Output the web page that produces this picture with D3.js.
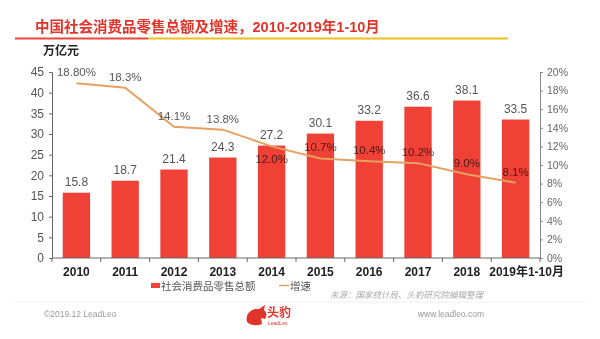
<!DOCTYPE html>
<html>
<head>
<meta charset="utf-8">
<script src="https://cdn.jsdelivr.net/npm/d3@7"></script>
<style>
  body { margin: 0; background: #fff; }
  svg { display: block; font-family: "Liberation Sans", "Noto Sans CJK SC", sans-serif; }
</style>
</head>
<body>
<div id="chart"></div>
<script>
var width = 600, height = 339;

// 社会消费品零售总额（万亿元）及增速
var years = ["2010", "2011", "2012", "2013", "2014", "2015", "2016", "2017", "2018", "2019年1-10月"];
var sales = [15.8, 18.7, 21.4, 24.3, 27.2, 30.1, 33.2, 36.6, 38.1, 33.5];
var growth = [18.8, 18.3, 14.1, 13.8, 12.0, 10.7, 10.4, 10.2, 9.0, 8.1];
var growthLabels = ["18.80%", "18.3%", "14.1%", "13.8%", "12.0%", "10.7%", "10.4%", "10.2%", "9.0%", "8.1%"];
var leftTicks = [0, 5, 10, 15, 20, 25, 30, 35, 40, 45];
var rightTicks = [0, 2, 4, 6, 8, 10, 12, 14, 16, 18, 20];

var barColor = "#ef4136", lineColor = "#e5a161", red = "#e0352b";

var svg = d3.select("#chart").append("svg")
    .attr("width", width)
    .attr("height", height);

// title + two-tone rule
svg.append("text")
    .attr("x", 35).attr("y", 32)
    .attr("fill", red)
    .style("font-size", "14.5px")
    .style("font-weight", "bold")
    .text("中国社会消费品零售总额及增速，2010-2019年1-10月");
svg.append("line").attr("x1", 15).attr("x2", 148).attr("y1", 38.5).attr("y2", 38.5)
    .attr("stroke", "#e8473c").attr("stroke-width", 2);
svg.append("line").attr("x1", 148).attr("x2", 508).attr("y1", 38.5).attr("y2", 38.5)
    .attr("stroke", "#f3bd1c").attr("stroke-width", 2);

svg.append("text")
    .attr("x", 43).attr("y", 55)
    .attr("fill", "#222")
    .style("font-size", "12px")
    .style("font-weight", "bold")
    .text("万亿元");

var plotL = 52, plotR = 540, plotT = 72, plotB = 258;

var x = d3.scaleBand().domain(years).range([plotL, plotR]).paddingInner(0.44).paddingOuter(0.22);
var yL = d3.scaleLinear().domain([0, 45]).range([plotB, plotT]);
var yR = d3.scaleLinear().domain([0, 20]).range([plotB, plotT]);
var cx = function(i) { return x(years[i]) + x.bandwidth() / 2; };

// left axis
var axL = svg.append("g")
    .attr("transform", "translate(" + plotL + ",0)")
    .call(d3.axisLeft(yL).tickValues(leftTicks).tickSize(3).tickPadding(5));
axL.select(".domain").attr("stroke", "#666");
axL.selectAll(".tick line").attr("stroke", "#666");
axL.selectAll("text").attr("fill", "#555").style("font-size", "12px");

// right axis
var axR = svg.append("g")
    .attr("transform", "translate(" + plotR + ",0)")
    .call(d3.axisRight(yR).tickValues(rightTicks).tickFormat(function(d) { return d + "%"; }).tickSize(3).tickPadding(4));
axR.select(".domain").attr("stroke", "#888");
axR.selectAll(".tick line").attr("stroke", "#888");
axR.selectAll("text").attr("fill", "#666").style("font-size", "10.5px");

// bars
svg.selectAll("rect.bar")
    .data(sales)
    .enter().append("rect")
    .attr("class", "bar")
    .attr("x", function(d, i) { return x(years[i]); })
    .attr("y", function(d) { return yL(d); })
    .attr("width", x.bandwidth())
    .attr("height", function(d) { return plotB - yL(d); })
    .attr("fill", barColor);

svg.selectAll("text.val")
    .data(sales)
    .enter().append("text")
    .attr("class", "val")
    .attr("x", function(d, i) { return cx(i); })
    .attr("y", function(d) { return yL(d) - 7; })
    .attr("text-anchor", "middle")
    .attr("fill", "#555")
    .style("font-size", "12px")
    .text(function(d) { return d.toFixed(1); });

// bottom axis with ticks between categories
svg.append("line").attr("x1", plotL).attr("x2", plotR).attr("y1", plotB).attr("y2", plotB)
    .attr("stroke", "#666");
svg.selectAll("line.sep")
    .data(d3.range(years.length + 1))
    .enter().append("line")
    .attr("class", "sep")
    .attr("x1", function(i) { return plotL + i * x.step(); })
    .attr("x2", function(i) { return plotL + i * x.step(); })
    .attr("y1", plotB).attr("y2", plotB + 4)
    .attr("stroke", "#666");
svg.selectAll("text.cat")
    .data(years)
    .enter().append("text")
    .attr("class", "cat")
    .attr("x", function(d, i) { return cx(i) + (i === years.length - 1 ? 11 : 0); })
    .attr("y", 275.5)
    .attr("text-anchor", "middle")
    .attr("fill", "#222")
    .style("font-size", "12px")
    .style("font-weight", "bold")
    .text(function(d) { return d; });

// growth line
var line = d3.line()
    .x(function(d, i) { return cx(i); })
    .y(function(d) { return yR(d); });
svg.append("path")
    .datum(growth)
    .attr("d", line)
    .attr("fill", "none")
    .attr("stroke", lineColor)
    .attr("stroke-width", 2);

// 12.0% sits under the line, the rest above
svg.selectAll("text.pct")
    .data(growth)
    .enter().append("text")
    .attr("class", "pct")
    .attr("x", function(d, i) { return cx(i); })
    .attr("y", function(d, i) { return i === 4 ? yR(d) + 17 : yR(d) - 7; })
    .attr("text-anchor", "middle")
    .attr("fill", "#585858")
    .style("mix-blend-mode", "multiply")
    .style("font-size", "11.5px")
    .text(function(d, i) { return growthLabels[i]; });

// legend
svg.append("rect").attr("x", 151).attr("y", 283).attr("width", 9).attr("height", 5).attr("fill", barColor);
svg.append("text").attr("x", 161).attr("y", 290).attr("fill", "#555").style("font-size", "10.5px").text("社会消费品零售总额");
svg.append("line").attr("x1", 279).attr("x2", 289).attr("y1", 285.5).attr("y2", 285.5).attr("stroke", lineColor).attr("stroke-width", 1.5);
svg.append("text").attr("x", 290).attr("y", 290).attr("fill", "#555").style("font-size", "10.5px").text("增速");

// source + footer
svg.append("text").attr("x", 483).attr("y", 298).attr("text-anchor", "end")
    .attr("fill", "#aaa").style("font-size", "8.5px").style("font-style", "italic")
    .text("来源：国家统计局、头豹研究院编辑整理");
svg.append("line").attr("x1", 15).attr("x2", 585).attr("y1", 302).attr("y2", 302)
    .attr("stroke", "#f0f0f0");
svg.append("text").attr("x", 44).attr("y", 317).attr("fill", "#999").style("font-size", "8.5px")
    .text("©2019.12 LeadLeo");
svg.append("text").attr("x", 484).attr("y", 317).attr("text-anchor", "end").attr("fill", "#999").style("font-size", "8.5px")
    .text("www.leadleo.com");

// logo
var logo = svg.append("g").attr("transform", "translate(245,304)");
logo.append("path")
    .attr("d", "M2,18 C0,10 6,4 14,5 L20,1 L19,6 C22,8 22,12 20,15 L16,14 L17,20 C12,22 6,22 2,18 Z")
    .attr("fill", red);
logo.append("text").attr("x", 22).attr("y", 13).attr("fill", red)
    .style("font-size", "12px").style("font-weight", "bold").text("头豹");
logo.append("text").attr("x", 23).attr("y", 21).attr("fill", red)
    .style("font-size", "5px").style("font-style", "italic").text("LeadLeo");
</script>
</body>
</html>
